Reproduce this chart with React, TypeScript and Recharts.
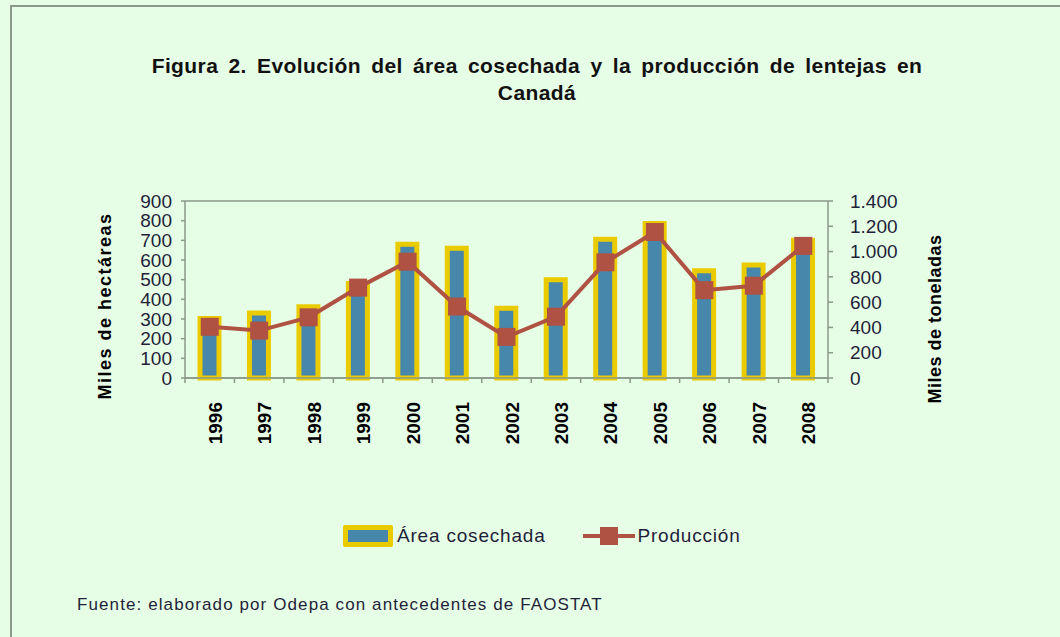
import React from 'react';
import {
  ComposedChart,
  Bar,
  Line,
  XAxis,
  YAxis,
  CartesianGrid,
} from 'recharts';

// Datos
const years = ['1996', '1997', '1998', '1999', '2000', '2001', '2002', '2003', '2004', '2005', '2006', '2007', '2008'];
const areaCosechada = [302, 330, 362, 480, 680, 660, 355, 500, 705, 785, 545, 575, 700];
const produccion = [405, 375, 480, 715, 920, 565, 325, 485, 915, 1155, 695, 730, 1045];
const leftTicks = [0, 100, 200, 300, 400, 500, 600, 700, 800, 900];
const rightTicks = [0, 200, 400, 600, 800, 1000, 1200, 1400];

const data = years.map((year, i) => ({
  year,
  area: areaCosechada[i],
  prod: produccion[i],
}));

const BG = '#E7FEE6';
const BLUE = '#4787AB';
const YELLOW = '#EACB00';
const RED = '#AF5243';
const GRID = '#8A998A';
const FONT = '"Liberation Sans", Arial, sans-serif';

// Formato con punto de miles (1.400)
const fmtMiles = (v: number) =>
  v >= 1000 ? `${Math.floor(v / 1000)}.${String(v % 1000).padStart(3, '0')}` : String(v);

// Marcador cuadrado
function SquareDot(props: any) {
  const { cx, cy } = props;
  if (cx == null || cy == null) return null;
  return <rect x={cx - 9} y={cy - 9} width={18} height={18} fill={RED} />;
}

// Etiqueta del eje X rotada + marcas entre categorías
function YearTick(props: any) {
  const { x, y, payload, index } = props;
  const half = payload?.offset ?? 0;
  return (
    <g>
      <line x1={x - half} y1={y - 8} x2={x - half} y2={y - 3} stroke={GRID} strokeWidth={1.5} />
      {index === years.length - 1 && (
        <line x1={x + half} y1={y - 8} x2={x + half} y2={y - 3} stroke={GRID} strokeWidth={1.5} />
      )}
      <text
        x={0}
        y={0}
        transform={`translate(${x + 12},${y + 16}) rotate(-90)`}
        textAnchor="end"
        fontFamily={FONT}
        fontWeight="bold"
        fontSize={19}
        fill="#000"
      >
        {payload.value}
      </text>
    </g>
  );
}

export default function App() {
  return (
    <div
      style={{
        position: 'absolute',
        left: 0,
        top: 0,
        width: 1060,
        height: 637,
        background: BG,
        overflow: 'hidden',
        fontFamily: FONT,
      }}
    >
      <div
        style={{
          position: 'absolute',
          left: 10,
          top: 5,
          width: 1100,
          height: 700,
          borderLeft: `2px solid ${GRID}`,
          borderTop: `2px solid ${GRID}`,
        }}
      />
      <div
        style={{
          position: 'absolute',
          left: 0,
          width: 1074,
          top: 52,
          textAlign: 'center',
          fontWeight: 'bold',
          fontSize: 21,
          letterSpacing: 0.4,
          wordSpacing: 4,
          lineHeight: '27px',
          color: '#111',
        }}
      >
        Figura 2. Evolución del área cosechada y la producción de lentejas en
        <br />
        Canadá
      </div>

      <div style={{ position: 'absolute', left: 0, top: 0 }}>
        <ComposedChart
          width={1060}
          height={637}
          data={data}
          margin={{ top: 201, right: 172, left: 125, bottom: 0 }}
          barSize={19}
        >
          <CartesianGrid horizontal vertical={false} stroke={GRID} strokeWidth={1.5} />
          <XAxis
            dataKey="year"
            height={259}
            axisLine={{ stroke: GRID, strokeWidth: 1.5 }}
            tickLine={false}
            tick={<YearTick />}
            interval={0}
          />
          <YAxis
            yAxisId="left"
            width={60}
            domain={[0, 900]}
            ticks={leftTicks}
            interval={0}
            axisLine={{ stroke: GRID, strokeWidth: 1.5 }}
            tickLine={{ stroke: GRID, strokeWidth: 1.5 }}
            tickSize={4}
            tickMargin={9}
            tick={{ fontSize: 19, fill: '#1f1f3a', fontFamily: FONT }}
          />
          <YAxis
            yAxisId="right"
            orientation="right"
            width={60}
            domain={[0, 1400]}
            ticks={rightTicks}
            interval={0}
            axisLine={{ stroke: GRID, strokeWidth: 1.5 }}
            tickLine={{ stroke: GRID, strokeWidth: 1.5 }}
            tickSize={5}
            tickMargin={17}
            tickFormatter={fmtMiles}
            tick={{ fontSize: 19, fill: '#1f1f3a', fontFamily: FONT }}
          />
          <Bar
            yAxisId="left"
            dataKey="area"
            fill={BLUE}
            stroke={YELLOW}
            strokeWidth={5}
            isAnimationActive={false}
          />
          <Line
            yAxisId="right"
            type="linear"
            dataKey="prod"
            stroke={RED}
            strokeWidth={4}
            dot={<SquareDot />}
            activeDot={false}
            isAnimationActive={false}
          />
        </ComposedChart>
      </div>

      <div
        style={{
          position: 'absolute',
          left: 105,
          top: 306,
          transform: 'translate(-50%, -50%) rotate(-90deg)',
          whiteSpace: 'nowrap',
          fontWeight: 'bold',
          fontSize: 18,
          letterSpacing: 1.5,
          color: '#000',
        }}
      >
        Miles de hectáreas
      </div>
      <div
        style={{
          position: 'absolute',
          left: 935,
          top: 319,
          transform: 'translate(-50%, -50%) rotate(-90deg)',
          whiteSpace: 'nowrap',
          fontWeight: 'bold',
          fontSize: 18,
          letterSpacing: 0.5,
          color: '#000',
        }}
      >
        Miles de toneladas
      </div>

      {/* Leyenda */}
      <div
        style={{
          position: 'absolute',
          left: 343,
          top: 525,
          display: 'flex',
          alignItems: 'center',
          fontSize: 19,
          letterSpacing: 0.8,
          color: '#1f1f3a',
        }}
      >
        <div
          style={{
            width: 40,
            height: 12,
            background: BLUE,
            border: `5px solid ${YELLOW}`,
            borderRadius: 2,
          }}
        />
        <span style={{ marginLeft: 4 }}>Área cosechada</span>
        <svg width={52} height={20} style={{ marginLeft: 37 }}>
          <line x1={0} y1={10} x2={52} y2={10} stroke={RED} strokeWidth={4} />
          <rect x={17} y={1} width={18} height={18} fill={RED} />
        </svg>
        <span style={{ marginLeft: 3 }}>Producción</span>
      </div>

      <div
        style={{
          position: 'absolute',
          left: 77,
          top: 595,
          fontSize: 17,
          letterSpacing: 1.1,
          color: '#1f1f3a',
        }}
      >
        Fuente: elaborado por Odepa con antecedentes de FAOSTAT
      </div>
    </div>
  );
}
